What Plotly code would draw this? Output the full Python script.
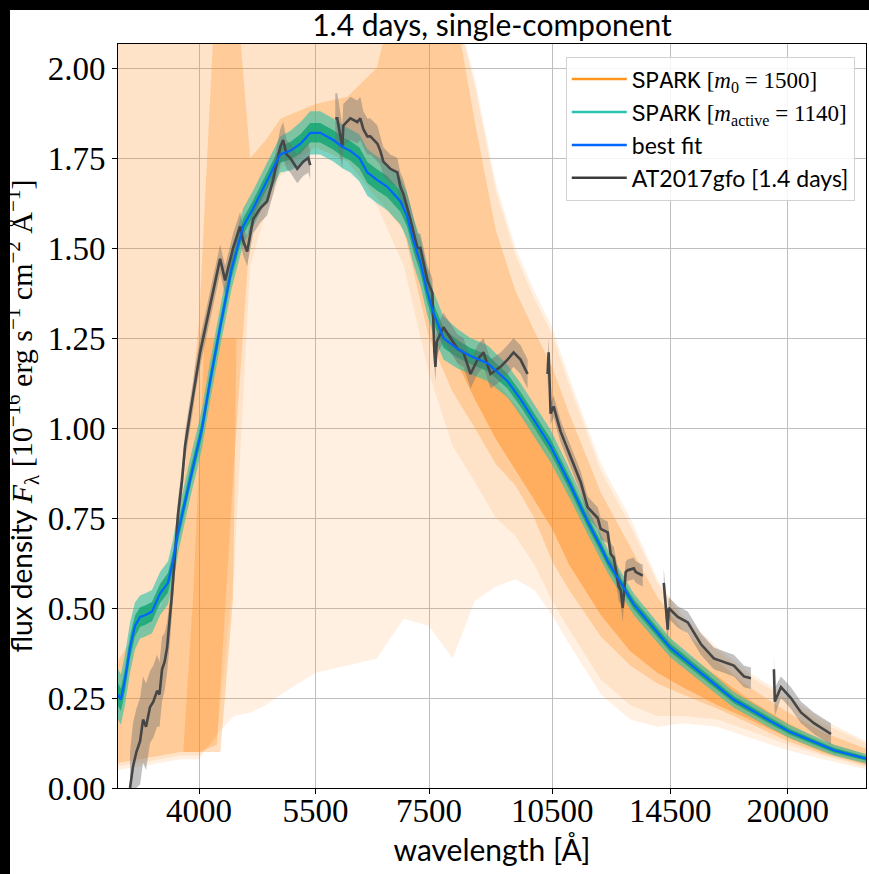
import plotly.graph_objects as go

# ---------------- data ----------------
# best-fit model spectrum (wavelength in Angstrom, flux in 1e-16 erg/s/cm2/A)
bf_wl = [3205, 3230, 3266, 3312, 3357, 3404, 3450, 3517, 3595, 3674, 3725, 3776, 3828, 3903, 3978,
         4033, 4122, 4237, 4370, 4512, 4637, 4800, 4993, 5132, 5280, 5420, 5570, 5773, 5930, 6048,
         6200, 6336, 6500, 6692, 6934, 7060, 7186, 7325, 7460, 7590, 7801, 8106, 8400, 8800, 9295,
         9631, 10258, 10456, 11044, 11570, 11990, 12222, 13124, 14500, 15766, 17256, 18939, 20115,
         22690, 24900]
bf_flux = [0.26, 0.245, 0.30, 0.39, 0.45, 0.475, 0.48, 0.49, 0.54, 0.57, 0.63, 0.71, 0.77, 0.86, 0.94,
           1.00, 1.13, 1.28, 1.44, 1.56, 1.61, 1.68, 1.76, 1.77, 1.79, 1.82, 1.82, 1.80, 1.78, 1.77,
           1.75, 1.71, 1.69, 1.67, 1.63, 1.59, 1.52, 1.46, 1.38, 1.32, 1.25, 1.22, 1.20, 1.18, 1.13,
           1.08, 0.98, 0.95, 0.84, 0.74, 0.67, 0.63, 0.51, 0.39, 0.32, 0.245, 0.19, 0.156,
           0.105, 0.08]
# spread of the SPARK [m_active] posterior samples around the best fit
bf_spread = [0.07, 0.07, 0.07, 0.07, 0.065, 0.06, 0.06, 0.06, 0.06, 0.06, 0.06, 0.06, 0.055, 0.055, 0.055,
             0.055, 0.055, 0.055, 0.055, 0.05, 0.05, 0.05, 0.05, 0.055, 0.06, 0.06, 0.06, 0.06, 0.06, 0.06,
             0.065, 0.065, 0.065, 0.065, 0.065, 0.065, 0.065, 0.065, 0.065, 0.06, 0.06, 0.055, 0.05, 0.05, 0.045,
             0.045, 0.045, 0.045, 0.04, 0.035, 0.035, 0.033, 0.03, 0.027, 0.025, 0.022, 0.02, 0.018,
             0.015, 0.013]

# AT2017gfo spectrum at 1.4 days (None = gaps)
obs_wl = [3312, 3339, 3370, 3404, 3432, 3460, 3498, 3530, 3566, 3590, 3615, 3640, 3665, 3695, 3715,
          3746, 3776, 3818, 3850, 3903, 3935, 3956, 4011, 4122, 4202, 4237, 4295, 4390, 4475, 4512,
          4562, 4637, 4727, 4818, 4898, 4993, 5034, 5080, 5132, 5231, 5317, 5391, 5420, None,
          5804, 5836, 5917, 5933, 6048, 6165, 6215, 6267, 6336, 6388, 6512, 6565, 6619, 6747, 6878,
          6934, 6992, 7069, 7127, 7265, 7325, 7467, 7528, 7569, 7610, 7632, 7660, 7801, 7952, 8106,
          8240, 8400, 8562, 8704, 8872, 9119, 9295, 9449, 9631, 9818, None,
          10371, 10400, 10456, 10543, 10747, 11044, 11351, 11570, 11892, 11990, 12222, 12323, 12424,
          12596, 12665, 12735, 12840, 12910, 13124, 13196, 13451, None,
          14247, 14404, 14443, 14803, 15214, 15766, 16337, 16791, 17256, 17735, 18079, None,
          19253, 19300, 19626, 20170, 20728, 21480, 22504]
obs_flux = [0.00, 0.06, 0.10, 0.13, 0.19, 0.17, 0.225, 0.24, 0.27, 0.26, 0.33, 0.35, 0.39, 0.47, 0.54,
            0.65, 0.76, 0.855, 0.95, 1.04, 1.09, 1.13, 1.21, 1.34, 1.43, 1.47, 1.41, 1.50, 1.56, 1.52,
            1.49, 1.58, 1.61, 1.63, 1.69, 1.78, 1.80, 1.76, 1.75, 1.72, 1.74, 1.75, 1.73, None,
            1.86, 1.86, 1.78, 1.84, 1.86, 1.85, 1.86, 1.83, 1.81, 1.81, 1.79, 1.77, 1.74, 1.72, 1.71,
            1.67, 1.65, 1.61, 1.58, 1.50, 1.50, 1.41, 1.39, 1.375, 1.21, 1.17, 1.24, 1.28, 1.25, 1.22,
            1.21, 1.15, 1.19, 1.21, 1.15, 1.17, 1.19, 1.21, 1.19, 1.15, None,
            1.15, 1.21, 1.04, 1.06, 0.99, 0.92, 0.85, 0.78, 0.75, 0.72, 0.71, 0.65, 0.64,
            0.56, 0.55, 0.50, 0.60, 0.605, 0.61, 0.60, 0.59, None,
            0.57, 0.44, 0.50, 0.475, 0.46, 0.40, 0.36, 0.35, 0.34, 0.31, 0.305, None,
            0.33, 0.24, 0.28, 0.25, 0.21, 0.18, 0.15]
obs_err = [0.10, 0.12, 0.12, 0.12, 0.12, 0.12, 0.10, 0.10, 0.10, 0.09, 0.09, 0.08, 0.07, 0.06, 0.05,
           0.05, 0.04, 0.04, 0.04, 0.04, 0.04, 0.04, 0.04, 0.04, 0.04, 0.04, 0.04, 0.04, 0.04, 0.04,
           0.04, 0.04, 0.04, 0.04, 0.04, 0.05, 0.05, 0.04, 0.04, 0.04, 0.04, 0.04, 0.04, None,
           0.07, 0.07, 0.06, 0.06, 0.06, 0.06, 0.06, 0.05, 0.05, 0.05, 0.05, 0.04, 0.04, 0.04, 0.04,
           0.04, 0.04, 0.04, 0.04, 0.04, 0.04, 0.04, 0.04, 0.04, 0.04, 0.04, 0.04, 0.04, 0.04, 0.04,
           0.04, 0.04, 0.04, 0.04, 0.04, 0.04, 0.04, 0.04, 0.04, 0.04, None,
           0.04, 0.04, 0.03, 0.03, 0.03, 0.03, 0.03, 0.03, 0.03, 0.03, 0.03, 0.03, 0.03,
           0.04, 0.04, 0.04, 0.03, 0.03, 0.03, 0.03, 0.03, None,
           0.04, 0.04, 0.03, 0.03, 0.03, 0.03, 0.03, 0.03, 0.03, 0.03, 0.03, None,
           0.04, 0.04, 0.03, 0.03, 0.03, 0.03, 0.03]

# envelopes of the SPARK [m0 = 1500] sample curves (faint / medium / dense)
env_wl = [3200, 3400, 3600, 3800, 4000, 4200, 4400, 4600, 4800, 5000, 5500, 6000, 6500, 7000, 7500,
          8000, 8500, 9000, 9500, 10000, 10500, 11000, 12000, 13000, 14000, 15000, 16500, 18000,
          20000, 22000, 25000]
faint_lo = [0.05, 0.06, 0.07, 0.08, 0.08, 0.15, 0.20, 0.21, 0.23, 0.26, 0.32, 0.34, 0.36, 0.47, 0.45,
            0.36, 0.52, 0.56, 0.58, 0.55, 0.48, 0.40, 0.26, 0.19, 0.17, 0.18, 0.17, 0.14,
            0.105, 0.08, 0.05]
faint_hi = [2.3, 2.3, 2.3, 2.3, 2.3, 2.3, 2.3, 2.3, 2.3, 2.3, 2.3, 2.3, 2.3, 2.3, 2.3,
            2.2, 1.97, 1.68, 1.50, 1.38, 1.28, 1.14, 0.90, 0.75, 0.58, 0.48, 0.39, 0.32,
            0.255, 0.19, 0.125]
mid_lo = [0.06, 0.07, 0.08, 0.09, 0.09, 0.14, 0.60, 1.45, 1.60, 1.70, 1.78, 1.74, 1.62, 1.45, 1.15,
          0.95, 0.85, 0.75, 0.70, 0.62, 0.52, 0.44, 0.30, 0.23, 0.20, 0.20, 0.19, 0.16,
          0.12, 0.09, 0.055]
mid_hi = [2.3, 2.3, 2.3, 2.3, 2.3, 2.3, 2.3, 2.3, 2.3, 2.3, 2.3, 2.3, 2.3, 2.3, 2.3,
          2.2, 1.95, 1.66, 1.48, 1.36, 1.26, 1.12, 0.88, 0.73, 0.57, 0.47, 0.38, 0.31,
          0.245, 0.18, 0.12]
dense_lo = [0.07, 0.08, 0.09, 0.10, 0.10, 0.12, 0.90, 1.55, 1.63, 1.72, 1.78, 1.74, 1.64, 1.55, 1.25,
            1.10, 1.00, 0.90, 0.84, 0.75, 0.63, 0.55, 0.42, 0.34, 0.29, 0.26, 0.22, 0.18,
            0.13, 0.095, 0.06]
dense_hi = [0.35, 0.45, 0.50, 0.75, 1.30, 2.3, 2.3, 1.75, 1.80, 1.86, 1.90, 1.92, 2.00, 2.3, 2.3,
            2.2, 1.85, 1.55, 1.38, 1.27, 1.17, 1.04, 0.82, 0.67, 0.53, 0.44, 0.35, 0.28,
            0.21, 0.155, 0.105]
# densest strands: rising "left leg" and the band under the best fit at long wavelength
leg_wl = [3830, 4240, 4390, 4430, 4060, 3935]
leg_flux = [0.10, 0.10, 0.53, 1.25, 1.25, 0.53]
tail_wl = [7800, 8500, 9000, 10000, 10500, 11000, 12000, 13000, 14000, 15000, 16500, 18000, 20000,
           22000, 25000]
tail_lo = [1.26, 1.08, 0.97, 0.80, 0.72, 0.62, 0.48, 0.38, 0.32, 0.28, 0.23, 0.19, 0.14, 0.10, 0.065]
tail_hi = [1.26, 1.20, 1.13, 1.00, 0.94, 0.86, 0.68, 0.54, 0.45, 0.38, 0.31, 0.245, 0.18, 0.13, 0.09]

x_ticks = [4000, 5500, 7500, 10500, 14500, 20000]
y_ticks = [0, 0.25, 0.5, 0.75, 1.0, 1.25, 1.5, 1.75, 2.0]

# ---------------- colours ----------------
ORANGE = "255,140,26"
TEAL = "rgb(40,196,176)"
BLUE = "rgb(0,102,255)"
GRAY = "rgb(70,70,70)"

fig = go.Figure()


def band(xs, lo, hi, color):
    fig.add_trace(go.Scatter(x=list(xs) + list(xs)[::-1], y=list(hi) + list(lo)[::-1],
                             fill="toself", fillcolor=color, mode="none",
                             hoverinfo="skip", showlegend=False))


# SPARK m0 sample envelopes
band(env_wl, faint_lo, faint_hi, f"rgba({ORANGE},0.13)")
band(env_wl, mid_lo, mid_hi, f"rgba({ORANGE},0.12)")
band(env_wl, dense_lo, dense_hi, f"rgba({ORANGE},0.27)")
fig.add_trace(go.Scatter(x=leg_wl + [leg_wl[0]], y=leg_flux + [leg_flux[0]], fill="toself",
                         fillcolor=f"rgba({ORANGE},0.28)", mode="none", hoverinfo="skip",
                         showlegend=False))
band(tail_wl, tail_lo, tail_hi, f"rgba({ORANGE},0.45)")

# SPARK m_active band
band(bf_wl, [f - s for f, s in zip(bf_flux, bf_spread)], [f + s for f, s in zip(bf_flux, bf_spread)],
     "rgba(40,192,170,0.6)")
band(bf_wl, [f - 0.45 * s for f, s in zip(bf_flux, bf_spread)],
     [f + 0.45 * s for f, s in zip(bf_flux, bf_spread)], "rgba(0,160,105,0.7)")

# observed spectrum error band (per contiguous segment)
seg_x, seg_lo, seg_hi = [], [], []
for w, f, e in list(zip(obs_wl, obs_flux, obs_err)) + [(None, None, None)]:
    if w is None:
        if seg_x:
            band(seg_x, seg_lo, seg_hi, "rgba(110,110,110,0.42)")
        seg_x, seg_lo, seg_hi = [], [], []
    else:
        seg_x.append(w)
        seg_lo.append(max(f - e, 0))
        seg_hi.append(f + e)

fig.add_trace(go.Scatter(x=obs_wl, y=obs_flux, mode="lines", line=dict(color=GRAY, width=2.6),
                         connectgaps=False, hoverinfo="skip", showlegend=False))
fig.add_trace(go.Scatter(x=bf_wl, y=bf_flux, mode="lines", line=dict(color=BLUE, width=2.2),
                         hoverinfo="skip", showlegend=False))

# legend entries
MONO = "font-family:Liberation Mono"
SERIF = "font-family:Liberation Serif"
legend_items = [
    (f"<span style=\"{MONO}\">SPARK</span> <span style=\"{SERIF}\">[<i>m</i><sub>0</sub> = 1500]</span>",
     "rgb(255,150,30)"),
    (f"<span style=\"{MONO}\">SPARK</span> <span style=\"{SERIF}\">[<i>m</i><sub>active</sub> = 1140]</span>",
     TEAL),
    ("best fit", BLUE),
    ("AT2017gfo [1.4 days]", "rgb(60,60,60)"),
]
for name, col in legend_items:
    fig.add_trace(go.Scatter(x=[None], y=[None], mode="lines", name=name,
                             line=dict(color=col, width=2.5)))

W, H = 869, 874
L, R, T, B = 118, 3, 44, 86
pw, ph = W - L - R, H - T - B

fig.update_layout(
    width=W, height=H,
    margin=dict(l=L, r=R, t=T, b=B),
    paper_bgcolor="white", plot_bgcolor="white",
    title=dict(text="1.4 days, single-component", x=0.5 * pw / W + L / W, xanchor="center",
               y=1 - 25 / H, yanchor="middle", yref="container",
               font=dict(family="Lato", size=30, color="black")),
    xaxis=dict(type="log", range=[3.5058, 4.3938], tickvals=x_ticks,
               ticktext=[str(v) for v in x_ticks],
               showgrid=True, gridcolor="rgb(190,190,190)", gridwidth=1,
               ticks="outside", ticklen=5, tickcolor="black", ticklabelstandoff=-12,
               showline=True, linecolor="black", linewidth=1, mirror=True,
               tickfont=dict(family="Liberation Serif", size=33, color="black"),
               title=dict(text="wavelength [Å]", standoff=12,
                          font=dict(family="Lato", size=30, color="black")),
               zeroline=False),
    yaxis=dict(range=[0, 2.0667], tickvals=y_ticks, tickformat=".2f",
               showgrid=True, gridcolor="rgb(190,190,190)", gridwidth=1,
               ticks="outside", ticklen=5, tickcolor="black",
               showline=True, linecolor="black", linewidth=1, mirror=True,
               tickfont=dict(family="Liberation Serif", size=33, color="black"),
               title=dict(text=("flux density <span style=\"font-family:Liberation Serif;font-size:30px\">"
                                "<i>F</i><sub>λ</sub> "
                                "[10<sup>−16</sup> erg s<sup>−1</sup> cm<sup>−2</sup> Å<sup>−1</sup>]</span>"),
                          standoff=6, font=dict(family="Lato", size=28, color="black")),
               zeroline=False),
    legend=dict(x=0.985, y=0.983, xanchor="right", yanchor="top", itemwidth=55,
                bgcolor="rgba(255,255,255,0.85)", bordercolor="rgb(210,210,210)", borderwidth=1,
                font=dict(family="Lato", size=23, color="black"), tracegroupgap=0),
    shapes=[
        dict(type="rect", xref="paper", yref="paper", x0=-0.3, x1=1.2,
             y0=1 + (T - 10) / ph, y1=1.2, fillcolor="black", line_width=0, layer="above"),
        dict(type="rect", xref="paper", yref="paper", x0=-0.3, x1=-(L - 10) / pw,
             y0=-0.3, y1=1.2, fillcolor="black", line_width=0, layer="above"),
    ],
)

fig.write_html("out.html")
